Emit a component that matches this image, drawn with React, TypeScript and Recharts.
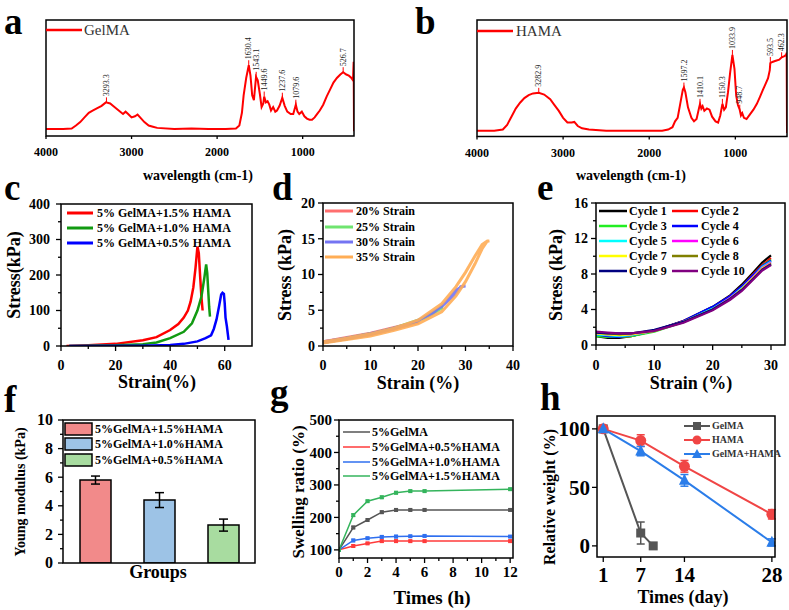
import React from "react";
import { ComposedChart, Line, XAxis, YAxis, Scatter, Bar, Cell, ErrorBar } from "recharts";

const W = 789;
const H = 610;
const FONT = '"Liberation Serif", "Times New Roman", serif';

// ---- a: GelMA FTIR (arbitrary transmittance units 0..100)
const GEL_WN = [4000, 3800, 3700, 3650, 3600, 3550, 3500, 3450, 3400, 3350, 3300, 3250, 3200, 3150, 3100, 3070, 3040, 3000, 2960, 2930, 2900, 2850, 2800, 2750, 2700, 2500, 2300, 2100, 1900, 1780, 1740, 1710, 1690, 1660, 1630, 1610, 1590, 1570, 1545, 1525, 1500, 1480, 1460, 1450, 1430, 1410, 1390, 1370, 1345, 1320, 1300, 1270, 1238, 1210, 1180, 1140, 1110, 1080, 1060, 1040, 1010, 980, 950, 920, 890, 860, 830, 800, 760, 720, 680, 640, 600, 560, 527, 490, 460, 430, 412, 404, 400];
const GEL_T = [6, 6, 6.5, 9, 12, 16, 20, 22, 24, 26, 29, 28, 25, 22, 19, 21, 19, 16, 17, 18.5, 16, 12, 9, 8, 7, 6, 6.5, 6, 6, 6.5, 9, 20, 35, 50, 61, 52, 35, 31, 51, 48, 36, 25, 28, 34, 29, 30, 27, 22, 25, 21, 22, 26, 33, 26, 21, 19, 19, 27, 21, 19, 21, 17, 15, 14, 14, 16, 19, 22, 27, 34, 40, 46, 50, 53, 55, 53, 52, 50, 48, 64, 4];
const GEL_PEAK_WN = [3293.3, 1630.4, 1543.1, 1449.6, 1237.6, 1079.6, 526.7];
const GEL_PEAK_T = [29, 61, 51, 34, 33, 27, 55];

// ---- b: HAMA FTIR
const HAMA_WN = [4000, 3800, 3700, 3650, 3600, 3550, 3500, 3450, 3400, 3350, 3283, 3220, 3150, 3100, 3050, 3000, 2950, 2900, 2870, 2830, 2780, 2700, 2500, 2200, 2000, 1850, 1780, 1730, 1700, 1670, 1640, 1610, 1597, 1580, 1550, 1510, 1480, 1450, 1420, 1410, 1395, 1380, 1360, 1330, 1300, 1270, 1230, 1200, 1175, 1150, 1130, 1110, 1085, 1060, 1034, 1010, 990, 970, 949, 935, 920, 900, 870, 830, 790, 750, 714, 680, 650, 620, 600, 594, 570, 530, 490, 462, 430, 410, 404, 400];
const HAMA_T = [5, 5, 6, 10, 17, 24, 29, 33, 35.5, 37, 37.5, 36, 32, 27, 22, 16, 12, 12, 12.5, 9, 7, 6, 5, 5, 5, 5, 6, 8, 13, 16, 28, 40, 42, 38, 25, 16, 13, 15, 25, 28, 24, 26, 22, 24, 23, 17, 13, 12, 18, 28, 23, 25, 38, 55, 70, 58, 35, 27, 23, 18, 20, 16, 15, 19, 23, 28, 34, 40, 45, 50, 57, 63, 64, 65, 66, 68, 69, 70, 72, 3];
const HAMA_PEAK_WN = [3282.9, 1597.2, 1410.1, 1150.3, 1033.9, 948.7, 593.5, 462.3];
const HAMA_PEAK_T = [37.5, 42, 28, 28, 70, 23, 64, 68];

// ---- c: compression curves
const C_RED_X = [2, 10, 20, 30, 35, 40, 43, 45, 46.5, 47.5, 48.5, 49.3, 50, 50.5, 51, 51.5, 51.9];
const C_RED_Y = [0, 2, 6, 16, 25, 45, 62, 80, 100, 125, 165, 220, 280, 262, 195, 135, 100];
const C_GRN_X = [3, 20, 30, 35, 40, 45, 48, 50, 51.5, 52.5, 53.2, 53.6, 54, 54.3, 54.6];
const C_GRN_Y = [0, 2, 5, 10, 22, 40, 64, 100, 140, 190, 230, 205, 150, 110, 83];
const C_BLU_X = [3, 30, 40, 45, 50, 53, 55, 56, 57, 58, 58.7, 59.2, 59.7, 60, 60.3, 60.8, 61.2, 61.4];
const C_BLU_Y = [0, 1, 3, 6, 13, 22, 30, 48, 75, 115, 145, 150, 147, 120, 80, 55, 30, 17];

// ---- d: loading/unloading loops
const D20_X = [0, 5, 10, 15, 20, 20, 15, 10, 5, 0];
const D20_Y = [0.6, 1.2, 1.8, 2.6, 3.4, 3.3, 2.4, 1.6, 1.0, 0.5];
const D25_X = [0, 5, 10, 15, 20, 23, 25, 25, 22, 18, 12, 6, 0];
const D25_Y = [0.5, 1.1, 1.7, 2.5, 3.6, 4.5, 5.4, 5.3, 4.1, 3.0, 2.0, 1.1, 0.5];
const D30_X = [0, 5, 10, 15, 20, 25, 28, 29, 30, 29.5, 28, 26, 23, 18, 12, 6, 0];
const D30_Y = [0.5, 1.0, 1.6, 2.4, 3.5, 5.5, 7.4, 8.3, 8.4, 8.4, 7.8, 6.2, 4.5, 3.0, 2.0, 1.2, 0.6];
const D35_X = [0, 5, 10, 15, 20, 25, 28, 30, 32, 33.5, 34.5, 35, 34.6, 33.5, 32, 30, 28, 25, 20, 15, 10, 5, 0];
const D35_Y = [0.4, 0.9, 1.4, 2.2, 3.1, 4.8, 7.0, 9.0, 11.5, 13.6, 14.6, 14.7, 14.7, 14.2, 12.6, 10.3, 8.3, 5.9, 3.6, 2.5, 1.7, 1.1, 0.6];

// ---- e: ten cycles at 30% strain
const E_X = [0, 2, 4, 6, 10, 15, 20, 23, 25, 27, 28.5, 30];
const E_C1 = [1.0, 0.8, 0.8, 1.0, 1.6, 2.7, 4.3, 5.6, 6.8, 8.2, 9.3, 10.1];
const E_C2 = [1.1, 0.9, 0.9, 1.0, 1.6, 2.7, 4.2, 5.5, 6.6, 8.0, 9.0, 9.8];
const E_C3 = [1.0, 0.9, 0.9, 1.0, 1.5, 2.6, 4.1, 5.4, 6.5, 7.9, 8.9, 9.6];
const E_C4 = [1.2, 1.0, 0.9, 1.1, 1.6, 2.7, 4.3, 5.5, 6.6, 7.9, 8.9, 9.5];
const E_C5 = [1.2, 1.1, 1.0, 1.1, 1.6, 2.6, 4.1, 5.3, 6.4, 7.7, 8.8, 9.4];
const E_C6 = [1.3, 1.2, 1.1, 1.2, 1.6, 2.6, 4.0, 5.3, 6.3, 7.7, 8.7, 9.3];
const E_C7 = [1.3, 1.2, 1.1, 1.2, 1.6, 2.6, 4.0, 5.2, 6.3, 7.6, 8.6, 9.2];
const E_C8 = [1.4, 1.3, 1.2, 1.3, 1.6, 2.6, 4.0, 5.2, 6.2, 7.5, 8.5, 9.1];
const E_C9 = [1.4, 1.3, 1.3, 1.3, 1.7, 2.6, 4.0, 5.2, 6.2, 7.5, 8.5, 9.1];
const E_C10 = [1.5, 1.4, 1.3, 1.3, 1.6, 2.5, 3.9, 5.1, 6.1, 7.4, 8.4, 9.0];
const E_NAMES = ["Cycle 1", "Cycle 2", "Cycle 3", "Cycle 4", "Cycle 5", "Cycle 6", "Cycle 7", "Cycle 8", "Cycle 9", "Cycle 10"];
const E_COLORS = ["#000000", "#ff0000", "#22ee22", "#0000ff", "#00ffff", "#ff00ff", "#ffff00", "#808000", "#000080", "#800080"];

// ---- f: Young modulus
const F_GROUPS = ["5%GelMA+1.5%HAMA", "5%GelMA+1.0%HAMA", "5%GelMA+0.5%HAMA"];
const F_VALUES = [5.8, 4.4, 2.65];
const F_ERR = [0.28, 0.52, 0.42];
const F_COLORS = ["#f28a8a", "#9dc3e6", "#a8dca0"];

// ---- g: swelling ratio
const G_TIME = [0, 1, 2, 3, 4, 5, 6, 12];
const G_GEL = [100, 169, 192, 216, 223, 223, 223, 223];
const G_05 = [100, 112, 120, 127, 127, 127, 127, 127];
const G_10 = [100, 129, 136, 140, 141, 142, 143, 141];
const G_15 = [100, 207, 250, 262, 276, 281, 281, 287];
const G_ERR = [0, 4, 3, 4, 4, 3, 3, 3];

// ---- h: degradation
const H_GEL_X = [1, 7, 9];
const H_GEL_Y = [100, 11, 0];
const H_GEL_E = [0, 9.4, 0];
const H_HAMA_X = [1, 7, 14, 28];
const H_HAMA_Y = [100, 90, 68, 27];
const H_HAMA_E = [0, 5, 5, 4];
const H_MIX_X = [1, 7, 14, 28];
const H_MIX_Y = [100, 81, 56, 3];
const H_MIX_E = [0, 4, 5, 3];

type Box = [number, number, number, number];
const BOX_A: Box = [46, 20, 354, 136];
const BOX_B: Box = [477, 20, 787, 136.5];
const BOX_C: Box = [61, 204, 252, 346];
const BOX_D: Box = [323, 203, 513, 346];
const BOX_E: Box = [596, 203, 785, 345];
const BOX_F: Box = [63, 420, 255, 563];
const BOX_G: Box = [339, 420, 513, 558];
const BOX_H: Box = [597, 416, 775, 557];

// axes get 1px of room (an axis of size 0 is not drawn), so take it off the margin
const mg = (b: Box, yAxis = true, xAxis = true) => ({
  left: b[0] - (yAxis ? 1 : 0),
  top: b[1],
  right: W - b[2],
  bottom: H - b[3] - (xAxis ? 1 : 0),
});
const pts = (xs: number[], ys: number[], es?: number[]) =>
  xs.map((x, i) => ({ x, y: ys[i], e: es ? es[i] : 0 }));

const xTick = (majors: number[], fs: number, gap: number, len = 5) => (p: any) => {
  const v = p.payload.value;
  const major = majors.includes(v);
  return (
    <g>
      {len > 0 && <line x1={p.x} x2={p.x} y1={p.y} y2={p.y + (major ? len : 3)} stroke="#000" strokeWidth={1.3} />}
      {major && (
        <text x={p.x} y={p.y + gap} textAnchor="middle" fontSize={fs} fontWeight="bold" fontFamily={FONT} fill="#000">
          {v}
        </text>
      )}
    </g>
  );
};

const yTick = (majors: number[], fs: number, gap: number, len = 5) => (p: any) => {
  const v = p.payload.value;
  const major = majors.includes(v);
  return (
    <g>
      <line x1={p.x} x2={p.x - (major ? len : 3)} y1={p.y} y2={p.y} stroke="#000" strokeWidth={1.3} />
      {major && (
        <text x={p.x - gap} y={p.y + fs * 0.34} textAnchor="end" fontSize={fs} fontWeight="bold" fontFamily={FONT} fill="#000">
          {v}
        </text>
      )}
    </g>
  );
};

const axisBase = { tickLine: false, axisLine: false, tickSize: 0, tickMargin: 0, interval: 0 as const, allowDataOverflow: true };

const peakMark = (p: any) => {
  const { cx, cy, payload } = p;
  return (
    <g>
      <line x1={cx} x2={cx} y1={cy} y2={cy - 5} stroke="#ff0000" strokeWidth={1} />
      <text transform={`translate(${cx + 2.7},${cy - 6}) rotate(-90)`} fontSize={8} fontFamily={FONT} fill="#222">
        {payload.label}
      </text>
    </g>
  );
};

const squareDot = (size: number, color: string) => (p: any) => (
  <rect key={p.index} x={p.cx - size / 2} y={p.cy - size / 2} width={size} height={size} fill={color} />
);
const circleDot = (r: number, color: string) => (p: any) => <circle key={p.index} cx={p.cx} cy={p.cy} r={r} fill={color} />;
const triDot = (s: number, color: string) => (p: any) => (
  <path key={p.index} d={`M${p.cx},${p.cy - s * 0.6}L${p.cx + s / 2},${p.cy + s * 0.4}L${p.cx - s / 2},${p.cy + s * 0.4}Z`} fill={color} />
);

function Layer({ children }: { children: React.ReactNode }) {
  return <div style={{ position: "absolute", left: 0, top: 0 }}>{children}</div>;
}

function Spectrum({ box, wn, t, peakWn, peakT }: { box: Box; wn: number[]; t: number[]; peakWn: number[]; peakT: number[] }) {
  const line = pts(wn, t);
  const peaks = peakWn.map((x, i) => ({ x, y: peakT[i], label: x.toFixed(1) }));
  return (
    <Layer>
      <ComposedChart width={W} height={H} margin={mg(box, false, true)}>
        <XAxis type="number" dataKey="x" domain={[400, 4000]} reversed ticks={[4000, 3000, 2000, 1000]} height={1}
          tick={xTick([4000, 3000, 2000, 1000], 12, 20, 3)} {...axisBase} />
        <YAxis type="number" domain={[0, 100]} hide />
        <Line data={line} dataKey="y" stroke="#ff0000" strokeWidth={2} dot={false} isAnimationActive={false} />
        <Scatter data={peaks} dataKey="y" shape={peakMark} isAnimationActive={false} />
      </ComposedChart>
    </Layer>
  );
}

function PanelC() {
  const series = [
    { d: pts(C_RED_X, C_RED_Y), c: "#ff0000" },
    { d: pts(C_GRN_X, C_GRN_Y), c: "#129a12" },
    { d: pts(C_BLU_X, C_BLU_Y), c: "#0000ff" },
  ];
  return (
    <Layer>
      <ComposedChart width={W} height={H} margin={mg(BOX_C)}>
        <XAxis type="number" dataKey="x" domain={[0, 70]} ticks={[0, 10, 20, 30, 40, 50, 60]} height={1}
          tick={xTick([0, 20, 40, 60], 14, 24)} {...axisBase} />
        <YAxis type="number" domain={[0, 400]} ticks={[0, 50, 100, 150, 200, 250, 300, 350, 400]} width={1}
          tick={yTick([0, 100, 200, 300, 400], 14, 11)} {...axisBase} />
        {series.map((s, i) => (
          <Line key={i} data={s.d} dataKey="y" stroke={s.c} strokeWidth={2.5} dot={false} isAnimationActive={false} />
        ))}
      </ComposedChart>
    </Layer>
  );
}

function PanelD() {
  const series = [
    { d: pts(D20_X, D20_Y), c: "#ff6f6f" },
    { d: pts(D25_X, D25_Y), c: "#6fe46f" },
    { d: pts(D30_X, D30_Y), c: "#7474f2" },
    { d: pts(D35_X, D35_Y), c: "#ffad55" },
  ];
  return (
    <Layer>
      <ComposedChart width={W} height={H} margin={mg(BOX_D)}>
        <XAxis type="number" dataKey="x" domain={[0, 40]} ticks={[0, 5, 10, 15, 20, 25, 30, 35, 40]} height={1}
          tick={xTick([0, 10, 20, 30, 40], 14, 24)} {...axisBase} />
        <YAxis type="number" domain={[0, 20]} ticks={[0, 2.5, 5, 7.5, 10, 12.5, 15, 17.5, 20]} width={1}
          tick={yTick([0, 5, 10, 15, 20], 14, 8)} {...axisBase} />
        {series.map((s, i) => (
          <Line key={i} data={s.d} dataKey="y" stroke={s.c} strokeWidth={3} strokeOpacity={0.9} dot={false} isAnimationActive={false} />
        ))}
      </ComposedChart>
    </Layer>
  );
}

function PanelE() {
  const cycles = [E_C1, E_C2, E_C3, E_C4, E_C5, E_C6, E_C7, E_C8, E_C9, E_C10];
  return (
    <Layer>
      <ComposedChart width={W} height={H} margin={mg(BOX_E)}>
        <XAxis type="number" dataKey="x" domain={[0, 32.4]} ticks={[0, 5, 10, 15, 20, 25, 30]} height={1}
          tick={xTick([0, 10, 20, 30], 14, 25)} {...axisBase} />
        <YAxis type="number" domain={[0, 16]} ticks={[0, 2, 4, 6, 8, 10, 12, 14, 16]} width={1}
          tick={yTick([0, 4, 8, 12, 16], 14, 8)} {...axisBase} />
        {cycles.map((c, i) => (
          <Line key={i} data={pts(E_X, c)} dataKey="y" stroke={E_COLORS[i]} strokeWidth={2.2} dot={false} isAnimationActive={false} />
        ))}
      </ComposedChart>
    </Layer>
  );
}

function PanelF() {
  const data = F_GROUPS.map((g, i) => ({ g, v: F_VALUES[i], e: F_ERR[i] }));
  return (
    <Layer>
      <ComposedChart width={W} height={H} margin={mg(BOX_F, true, false)} data={data} barCategoryGap={0}>
        <XAxis dataKey="g" type="category" hide />
        <YAxis type="number" domain={[0, 10]} ticks={[0, 1, 2, 3, 4, 5, 6, 7, 8, 9, 10]} width={1}
          tick={yTick([0, 2, 4, 6, 8, 10], 16, 10)} {...axisBase} />
        <Bar dataKey="v" barSize={31} stroke="#000" strokeWidth={1.5} isAnimationActive={false}>
          {data.map((d, i) => (
            <Cell key={i} fill={F_COLORS[i]} />
          ))}
          <ErrorBar dataKey="e" width={4.5} stroke="#000" strokeWidth={1.5} direction="y" />
        </Bar>
      </ComposedChart>
    </Layer>
  );
}

function PanelG() {
  const series = [
    { y: G_GEL, c: "#555555" },
    { y: G_05, c: "#ff3b3b" },
    { y: G_10, c: "#2f6fef" },
    { y: G_15, c: "#34b45c" },
  ];
  return (
    <Layer>
      <ComposedChart width={W} height={H} margin={mg(BOX_G)}>
        <XAxis type="number" dataKey="x" domain={[0, 12.2]} ticks={[0, 1, 2, 3, 4, 5, 6, 7, 8, 9, 10, 11, 12]} height={1}
          tick={xTick([0, 2, 4, 6, 8, 10, 12], 15, 19)} {...axisBase} />
        <YAxis type="number" domain={[75, 500]} ticks={[100, 150, 200, 250, 300, 350, 400, 450, 500]} width={1}
          tick={yTick([100, 200, 300, 400, 500], 15, 7)} {...axisBase} />
        {series.map((s, i) => (
          <Line key={i} data={pts(G_TIME, s.y, G_ERR)} dataKey="y" stroke={s.c} strokeWidth={1.5}
            dot={squareDot(4, s.c)} isAnimationActive={false}>
            <ErrorBar dataKey="e" width={2} stroke={s.c} strokeWidth={1} direction="y" />
          </Line>
        ))}
      </ComposedChart>
    </Layer>
  );
}

function PanelH() {
  return (
    <Layer>
      <ComposedChart width={W} height={H} margin={mg(BOX_H)}>
        <XAxis type="number" dataKey="x" domain={[0, 28.5]} ticks={[1, 7, 14, 28]} height={1}
          tick={xTick([1, 7, 14, 28], 21, 25)} {...axisBase} />
        <YAxis type="number" domain={[-9.5, 111]} ticks={[0, 50, 100]} width={1}
          tick={yTick([0, 50, 100], 21, 7)} {...axisBase} />
        <Line data={pts(H_GEL_X, H_GEL_Y, H_GEL_E)} dataKey="y" stroke="#555555" strokeWidth={2} dot={squareDot(9, "#555555")} isAnimationActive={false}>
          <ErrorBar dataKey="e" width={4} stroke="#555555" strokeWidth={1.5} direction="y" />
        </Line>
        <Line data={pts(H_HAMA_X, H_HAMA_Y, H_HAMA_E)} dataKey="y" stroke="#f04545" strokeWidth={2} dot={circleDot(5.5, "#f04545")} isAnimationActive={false}>
          <ErrorBar dataKey="e" width={4} stroke="#f04545" strokeWidth={1.5} direction="y" />
        </Line>
        <Line data={pts(H_MIX_X, H_MIX_Y, H_MIX_E)} dataKey="y" stroke="#2b7de9" strokeWidth={2} dot={triDot(11, "#2b7de9")} isAnimationActive={false}>
          <ErrorBar dataKey="e" width={4} stroke="#2b7de9" strokeWidth={1.5} direction="y" />
        </Line>
      </ComposedChart>
    </Layer>
  );
}

const TITLES = [
  { t: "wavelength (cm-1)", x: 198, y: 175, fs: 14 },
  { t: "wavelength (cm-1)", x: 631, y: 175, fs: 14 },
  { t: "Stress(kPa)", x: 14, y: 275, fs: 18, rot: true },
  { t: "Strain(%)", x: 157, y: 382, fs: 18 },
  { t: "Stress (kPa)", x: 285, y: 275, fs: 18, rot: true },
  { t: "Strain (%)", x: 418, y: 383, fs: 18 },
  { t: "Stress (kPa)", x: 556, y: 275, fs: 18, rot: true },
  { t: "Strain (%)", x: 691, y: 383, fs: 18 },
  { t: "Young modulus (kPa)", x: 20, y: 492, fs: 14, rot: true },
  { t: "Groups", x: 158, y: 572, fs: 18 },
  { t: "Swelling ratio (%)", x: 298, y: 492, fs: 17, rot: true },
  { t: "Times (h)", x: 432, y: 597, fs: 19 },
  { t: "Relative weight (%)", x: 549, y: 497, fs: 16, rot: true },
  { t: "Times (day)", x: 683, y: 597, fs: 18 },
];

const LETTERS = [
  { t: "a", x: 4, y: 34 },
  { t: "b", x: 415, y: 34 },
  { t: "c", x: 4, y: 200 },
  { t: "d", x: 272, y: 200 },
  { t: "e", x: 537, y: 200 },
  { t: "f", x: 4, y: 412 },
  { t: "g", x: 270, y: 405 },
  { t: "h", x: 540, y: 410 },
];

function LegendLine({ x, y, w, tx, color, text, fs, lw = 3, bold = true, fill = "#000", marker }: any) {
  return (
    <g>
      <line x1={x} x2={x + w} y1={y} y2={y} stroke={color} strokeWidth={lw} />
      {marker}
      <text x={tx} y={y + fs * 0.34} fontSize={fs} fontWeight={bold ? "bold" : "normal"} fontFamily={FONT} fill={fill}>
        {text}
      </text>
    </g>
  );
}

function Overlay() {
  const frames = [BOX_A, BOX_B, BOX_C, BOX_D, BOX_E, BOX_F, BOX_G, BOX_H];
  const cRows = [213, 228, 243];
  const cNames = ["5% GelMA+1.5% HAMA", "5% GelMA+1.0% HAMA", "5% GelMA+0.5% HAMA"];
  const cCols = ["#ff0000", "#129a12", "#0000ff"];
  const dRows = [211, 227, 242, 257];
  const dNames = ["20% Strain", "25% Strain", "30% Strain", "35% Strain"];
  const dCols = ["#ff6f6f", "#6fe46f", "#7474f2", "#ffad55"];
  const eRows = [211, 226, 241, 256, 271];
  const fRows = [429, 444, 460];
  const gRows = [432, 447, 462, 476];
  const gNames = ["5%GelMA", "5%GelMA+0.5%HAMA", "5%GelMA+1.0%HAMA", "5%GelMA+1.5%HAMA"];
  const gCols = ["#555555", "#ff3b3b", "#2f6fef", "#34b45c"];
  const hRows = [426, 440, 454];
  return (
    <svg width={W} height={H} style={{ position: "absolute", left: 0, top: 0, pointerEvents: "none" }}>
      {frames.map((b, i) => (
        <rect key={i} x={b[0]} y={b[1]} width={b[2] - b[0]} height={b[3] - b[1]} fill="none" stroke="#000" strokeWidth={1.5} />
      ))}
      {LETTERS.map((l) => (
        <text key={l.t} x={l.x} y={l.y} fontSize={37} fontWeight="bold" fontFamily={FONT} fill="#000">
          {l.t}
        </text>
      ))}
      {TITLES.map((t, i) => (
        <text key={i} transform={`translate(${t.x},${t.y})${t.rot ? " rotate(-90)" : ""}`} textAnchor="middle"
          dominantBaseline="central" fontSize={t.fs} fontWeight="bold" fontFamily={FONT} fill="#000">
          {t.t}
        </text>
      ))}

      <LegendLine x={46} y={30} w={36} tx={84} color="#ff0000" text="GelMA" fs={15} lw={2.5} bold={false} fill="#333" />
      <LegendLine x={477} y={31} w={36} tx={516} color="#ff0000" text="HAMA" fs={15} lw={2.5} bold={false} fill="#333" />

      {cRows.map((y, i) => (
        <LegendLine key={i} x={67} y={y} w={26} tx={97} color={cCols[i]} text={cNames[i]} fs={12} />
      ))}
      {dRows.map((y, i) => (
        <LegendLine key={i} x={325} y={y} w={28} tx={356} color={dCols[i]} text={dNames[i]} fs={12} />
      ))}
      {E_NAMES.map((n, i) => {
        const col = i % 2;
        const y = eRows[Math.floor(i / 2)];
        return (
          <LegendLine key={i} x={col ? 672 : 599} y={y} w={col ? 26 : 28} tx={col ? 701 : 629} color={E_COLORS[i]} text={n} fs={12} lw={2.5} />
        );
      })}
      {F_GROUPS.map((g, i) => (
        <g key={i}>
          <rect x={65} y={fRows[i] - 6} width={27} height={12} fill={F_COLORS[i]} stroke="#000" strokeWidth={1.5} />
          <text x={95} y={fRows[i] + 4} fontSize={12} fontWeight="bold" fontFamily={FONT}>
            {g}
          </text>
        </g>
      ))}
      {gRows.map((y, i) => (
        <LegendLine key={i} x={343} y={y} w={27} tx={372} color={gCols[i]} text={gNames[i]} fs={12} lw={1.5} />
      ))}
      <LegendLine x={684} y={hRows[0]} w={26} tx={712} color="#555555" text="GelMA" fs={10} lw={2} fill="#333"
        marker={<rect x={693} y={hRows[0] - 4} width={8} height={8} fill="#555555" />} />
      <LegendLine x={684} y={hRows[1]} w={26} tx={712} color="#f04545" text="HAMA" fs={10} lw={2} fill="#333"
        marker={<circle cx={697} cy={hRows[1]} r={4.5} fill="#f04545" />} />
      <LegendLine x={684} y={hRows[2]} w={26} tx={712} color="#2b7de9" text="GelMA+HAMA" fs={10} lw={2} fill="#333"
        marker={<path d={`M697,${hRows[2] - 5}L702,${hRows[2] + 4}L692,${hRows[2] + 4}Z`} fill="#2b7de9" />} />
    </svg>
  );
}

export default function App() {
  return (
    <div style={{ position: "absolute", left: 0, top: 0, width: W, height: H, background: "#fff", fontFamily: FONT, overflow: "hidden" }}>
      <Spectrum box={BOX_A} wn={GEL_WN} t={GEL_T} peakWn={GEL_PEAK_WN} peakT={GEL_PEAK_T} />
      <Spectrum box={BOX_B} wn={HAMA_WN} t={HAMA_T} peakWn={HAMA_PEAK_WN} peakT={HAMA_PEAK_T} />
      <PanelC />
      <PanelD />
      <PanelE />
      <PanelF />
      <PanelG />
      <PanelH />
      <Overlay />
    </div>
  );
}
